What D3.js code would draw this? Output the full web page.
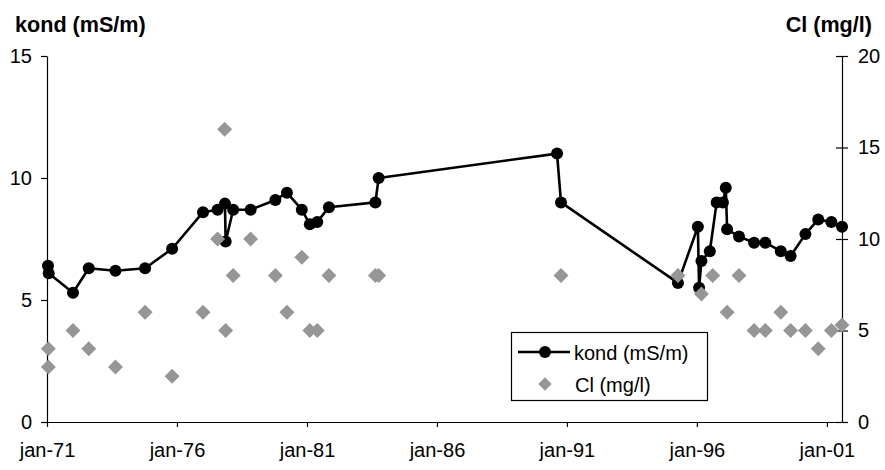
<!DOCTYPE html>
<html>
<head>
<meta charset="utf-8">
<script src="https://cdn.jsdelivr.net/npm/d3@7"></script>
<style>
  html, body { margin: 0; padding: 0; background: #fff; }
  svg { display: block; font-family: "Liberation Sans", Arial, sans-serif; }
</style>
</head>
<body>
<svg id="chart" width="885" height="470"></svg>
<script>
// ---- data ----
const kondDates = [
  "1971-01-15","1971-01-25","1972-01-01","1972-08-10","1973-08-20","1974-10-10","1975-10-25",
  "1977-01-01","1977-07-25","1977-11-05","1977-11-15","1978-03-01","1978-11-01","1979-10-15",
  "1980-03-25","1980-10-20","1981-02-10","1981-05-25","1981-11-05","1983-08-20","1983-10-05",
  "1990-08-15","1990-10-10","1995-04-10","1996-01-15","1996-02-01","1996-03-05","1996-07-01",
  "1996-10-05","1997-01-01","1997-02-10","1997-03-01","1997-08-15","1998-03-15","1998-08-20",
  "1999-03-25","1999-08-10","2000-03-05","2000-09-01","2001-03-05","2001-08-01"
];
const kondValues = [
  6.4, 6.1, 5.3, 6.3, 6.2, 6.3, 7.1,
  8.6, 8.7, 8.95, 7.4, 8.7, 8.7, 9.1,
  9.4, 8.7, 8.1, 8.2, 8.8, 9.0, 10.0,
  11.0, 9.0, 5.7, 8.0, 5.5, 6.6, 7.0,
  9.0, 9.0, 9.6, 7.9, 7.6, 7.35, 7.35,
  7.0, 6.8, 7.7, 8.3, 8.2, 8.0
];
const clDates = [
  "1971-01-20","1971-01-20","1972-01-01","1972-08-10","1973-08-20","1974-10-10","1975-10-25",
  "1977-01-01","1977-07-25","1977-11-01","1977-11-15","1978-03-01","1978-11-01","1979-10-15",
  "1980-03-25","1980-10-20","1981-02-10","1981-05-25","1981-11-05","1983-08-20","1983-10-05",
  "1990-10-10","1995-04-10","1996-03-05","1996-08-10","1997-03-01","1997-08-15","1998-03-15",
  "1998-08-20","1999-03-25","1999-08-10","2000-03-05","2000-09-01","2001-03-05","2001-08-01"
];
const clValues = [
  4, 3, 5, 4, 3, 6, 2.5,
  6, 10, 16, 5, 8, 10, 8,
  6, 9, 5, 5, 8, 8, 8,
  8, 8, 7, 8, 6, 8, 5,
  5, 6, 5, 5, 4, 5, 5.3
];
const leftTicks = [0, 5, 10, 15];
const rightTicks = [0, 5, 10, 15, 20];
const xTickDates = ["1971-01-01","1976-01-01","1981-01-01","1986-01-01","1991-01-01","1996-01-01","2001-01-01"];
const xTickLabels = ["jan-71","jan-76","jan-81","jan-86","jan-91","jan-96","jan-01"];
const leftTitle = "kond (mS/m)";
const rightTitle = "Cl (mg/l)";
const legendLabels = ["kond (mS/m)", "Cl (mg/l)"];

// ---- drawing ----
(function () {
const parse = d3.timeParse("%Y-%m-%d");
const kond = kondDates.map((d, i) => ({ date: parse(d), value: kondValues[i] }));
const cl = clDates.map((d, i) => ({ date: parse(d), value: clValues[i] }));

const svg = d3.select("#chart");
const pL = 47, pR = 842, pT = 56, pB = 422;

const x = d3.scaleTime()
  .domain([parse("1971-01-01"), parse("2001-08-01")])
  .range([pL, pR]);
const yL = d3.scaleLinear().domain([0, 15]).range([pB, pT]);
const yR = d3.scaleLinear().domain([0, 20]).range([pB, pT]);

const fontSize = 20;
const grey = "#969696";

// Left axis
const gL = svg.append("g").attr("transform", `translate(${pL},0)`)
  .call(d3.axisLeft(yL).tickValues(leftTicks).tickSize(6).tickPadding(9).tickSizeOuter(0));
// Right axis
const gR = svg.append("g").attr("transform", `translate(${pR},0)`)
  .call(d3.axisRight(yR).tickValues(rightTicks).tickSize(6).tickPadding(10).tickSizeOuter(0));
gR.selectAll(".tick line").attr("x1", -6).attr("x2", 6);
// Bottom axis
const xTickMap = new Map(xTickDates.map((d, i) => [+parse(d), xTickLabels[i]]));
const gB = svg.append("g").attr("transform", `translate(0,${pB})`)
  .call(d3.axisBottom(x).tickValues(xTickDates.map(parse)).tickSize(5).tickPadding(16)
    .tickSizeOuter(0).tickFormat(d => xTickMap.get(+d)));

[gL, gR, gB].forEach(g => {
  g.select(".domain").attr("stroke", "#000").attr("stroke-width", 1.2);
  g.selectAll(".tick line").attr("stroke", "#000").attr("stroke-width", 1.2);
  g.selectAll(".tick text").attr("fill", "#000")
    .style("font-size", fontSize + "px").style("font-family", "'Liberation Sans', Arial, sans-serif");
});
gB.selectAll(".tick text").attr("dy", "0.71em");

// Titles
svg.append("text").attr("x", 15).attr("y", 32).attr("font-weight", "bold")
  .style("font-size", "21.6px").text(leftTitle);
svg.append("text").attr("x", 872).attr("y", 32).attr("font-weight", "bold")
  .attr("text-anchor", "end").style("font-size", "21.6px").text(rightTitle);

// kond line + markers
const line = d3.line().x(d => x(d.date)).y(d => yL(d.value));
svg.append("path").datum(kond).attr("d", line)
  .attr("fill", "none").attr("stroke", "#000").attr("stroke-width", 2.6).attr("stroke-linejoin", "round");
svg.append("g").selectAll("circle").data(kond).join("circle")
  .attr("cx", d => x(d.date)).attr("cy", d => yL(d.value)).attr("r", 6).attr("fill", "#000");

// Cl diamonds
const diamond = d3.symbol().type(d3.symbolSquare).size(112);
svg.append("g").selectAll("path").data(cl).join("path")
  .attr("d", diamond)
  .attr("transform", d => `translate(${x(d.date)},${yR(d.value)}) rotate(45)`)
  .attr("fill", grey);

// Legend
const lg = svg.append("g");
lg.append("rect").attr("x", 511.5).attr("y", 332.5).attr("width", 196).attr("height", 68)
  .attr("fill", "#fff").attr("stroke", "#000").attr("stroke-width", 1.2);
lg.append("line").attr("x1", 518).attr("x2", 570).attr("y1", 352).attr("y2", 352)
  .attr("stroke", "#000").attr("stroke-width", 2.6);
lg.append("circle").attr("cx", 545).attr("cy", 352).attr("r", 6).attr("fill", "#000");
lg.append("text").attr("x", 574).attr("y", 359.5).style("font-size", fontSize + "px").text(legendLabels[0]);
lg.append("path").attr("d", d3.symbol().type(d3.symbolSquare).size(90))
  .attr("transform", "translate(545,384) rotate(45)").attr("fill", grey);
lg.append("text").attr("x", 575).attr("y", 391.5).style("font-size", fontSize + "px").text(legendLabels[1]);
})();
</script>
</body>
</html>
